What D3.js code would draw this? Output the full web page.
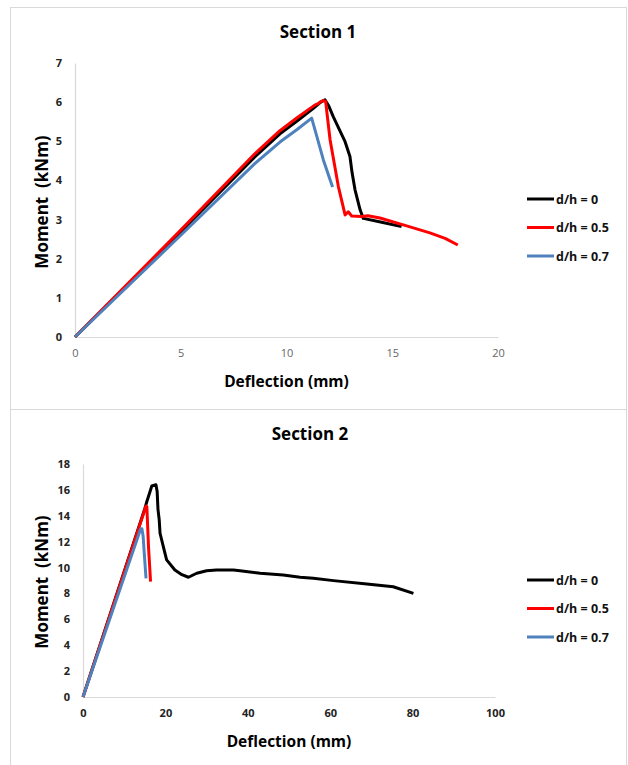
<!DOCTYPE html>
<html><head><meta charset="utf-8">
<script src="https://cdn.jsdelivr.net/npm/d3@7"></script>
<style>
body{margin:0;background:#fff;}
svg{display:block;}
text{font-family:"Open Sans","Noto Sans",sans-serif;}
</style></head>
<body><svg id="c" width="628" height="765"></svg>
<script>
// ---- Data ----
const seriesNames = ["d/h = 0", "d/h = 0.5", "d/h = 0.7"];
const seriesColors = ["#000000", "#ff0000", "#4f81bd"];

const s1Ticks = [0, 5, 10, 15, 20];
const s1YTicks = [0, 1, 2, 3, 4, 5, 6, 7];
const s1Black = [[0,0],[5,2.69],[8.5,4.6],[9.69,5.19],[10.5,5.52],[11.27,5.84],[11.62,6.0],[11.82,6.06],[12.0,5.9],[12.21,5.63],[12.5,5.3],[12.77,4.99],[13.0,4.61],[13.1,4.2],[13.24,3.76],[13.48,3.25],[13.63,3.03],[14.5,2.93],[15.44,2.82]];
const s1Red = [[0,0],[5,2.73],[8.5,4.68],[9.69,5.27],[10.5,5.6],[11.35,5.93],[11.5,5.96],[11.58,6.0],[11.74,6.04],[11.85,6.02],[12.06,5.04],[12.45,3.85],[12.77,3.12],[12.92,3.2],[13.08,3.09],[13.55,3.08],[13.85,3.1],[14.42,3.04],[15.68,2.84],[16.78,2.66],[17.5,2.52],[18.1,2.35]];
const s1Blue = [[0,0],[5,2.6],[8.5,4.43],[9.69,4.98],[10.5,5.3],[11.19,5.59],[11.43,5.13],[11.74,4.53],[12.06,4.02],[12.18,3.83]];

const s2Ticks = [0, 20, 40, 60, 80, 100];
const s2YTicks = [0, 2, 4, 6, 8, 10, 12, 14, 16, 18];
const s2Black = [[0,0],[15.0,14.55],[15.5,15.1],[16.7,16.3],[17.7,16.4],[18.0,15.87],[18.2,14.5],[18.5,13.68],[18.7,12.65],[19.9,11.1],[20.3,10.59],[22.3,9.81],[24,9.45],[25.6,9.25],[27.6,9.56],[30,9.75],[32.4,9.81],[36.5,9.81],[38.1,9.76],[43,9.56],[48.6,9.43],[52.7,9.25],[55.9,9.17],[60.8,8.99],[68.9,8.73],[75.3,8.52],[80.2,8.01]];
const s2Red = [[0,0],[15.3,14.76],[15.5,14.7],[15.9,11.6],[16.4,8.91]];
const s2Blue = [[0,0],[14.0,13.0],[14.3,13.0],[14.6,12.4],[15.0,10.5],[15.3,9.17]];

// ---- Drawing ----
const svg = d3.select("#c");
const grey = "#d9d9d9";

function drawChart(o){
  const g = svg.append("g");
  g.append("rect").attr("x",o.box[0]+0.5).attr("y",o.box[1]+0.5)
    .attr("width",o.box[2]).attr("height",o.box[3])
    .attr("fill","#fff").attr("stroke",grey).attr("stroke-width",1);
  const x = d3.scaleLinear().domain(o.xDomain).range([o.left,o.right]);
  const y = d3.scaleLinear().domain(o.yDomain).range([o.bottom,o.top]);

  // axes
  const xa = g.append("g").attr("transform",`translate(0,${o.bottom})`)
    .call(d3.axisBottom(x).tickValues(o.xTicks).tickFormat(d3.format("d")).tickSize(0).tickPadding(12));
  xa.select(".domain").attr("stroke",grey).attr("stroke-width",1.2);
  xa.selectAll("text").attr("font-size",11).attr("font-weight",o.xTickBold?"bold":"normal")
    .attr("fill",o.xTickBold?"#222":"#666");
  const ya = g.append("g").attr("transform",`translate(${o.left},0)`)
    .call(d3.axisLeft(y).tickValues(o.yTicks).tickFormat(d3.format("d")).tickSize(0).tickPadding(o.yPad));
  ya.select(".domain").attr("stroke",grey).attr("stroke-width",1.2);
  ya.selectAll("text").attr("font-size",11).attr("font-weight","bold").attr("fill","#222");

  // titles
  g.append("text").attr("x",o.titleX).attr("y",o.titleY).attr("text-anchor","middle")
    .attr("font-size",17).attr("font-weight","bold").attr("fill","#000").text(o.title);
  g.append("text").attr("x",(o.left+o.right)/2).attr("y",o.xTitleY).attr("text-anchor","middle")
    .attr("font-size",15.5).attr("font-weight","bold").attr("fill","#000").text("Deflection (mm)");
  g.append("text").attr("transform",`translate(${o.yTitleX},${o.yTitleY}) rotate(-90)`)
    .attr("text-anchor","middle").attr("font-size",17).attr("font-weight","bold")
    .attr("fill","#000").style("white-space","pre").text("Moment  (kNm)");

  // lines
  const line = d3.line().x(d=>x(d[0])).y(d=>y(d[1]));
  o.series.forEach((s,i)=>{
    g.append("path").datum(s).attr("d",line).attr("fill","none")
      .attr("stroke",seriesColors[i]).attr("stroke-width",3)
      .attr("stroke-linejoin","round").attr("stroke-linecap","butt");
  });

  // legend
  seriesNames.forEach((n,i)=>{
    const ly = o.legendY + i*28.5;
    g.append("line").attr("x1",527).attr("x2",554).attr("y1",ly).attr("y2",ly)
      .attr("stroke",seriesColors[i]).attr("stroke-width",3);
    g.append("text").attr("x",556).attr("y",ly+4.5).attr("font-size",12.5)
      .attr("font-weight","bold").attr("fill","#111").text(n);
  });
}

drawChart({box:[10,7,616,402], xDomain:[0,20], yDomain:[0,7], left:75, right:498, top:63, bottom:337,
  xTicks:s1Ticks, yTicks:s1YTicks, yPad:13, xTickBold:false, title:"Section 1", titleX:318, titleY:38,
  xTitleY:387, yTitleX:48, yTitleY:202, legendY:199, series:[s1Black,s1Red,s1Blue]});

drawChart({box:[10,409,616,356], xDomain:[0,100], yDomain:[0,18], left:83, right:495, top:464, bottom:697,
  xTicks:s2Ticks, yTicks:s2YTicks, yPad:13, xTickBold:true, title:"Section 2", titleX:310, titleY:440,
  xTitleY:747, yTitleX:48, yTitleY:582, legendY:580, series:[s2Black,s2Red,s2Blue]});
</script></body></html>
